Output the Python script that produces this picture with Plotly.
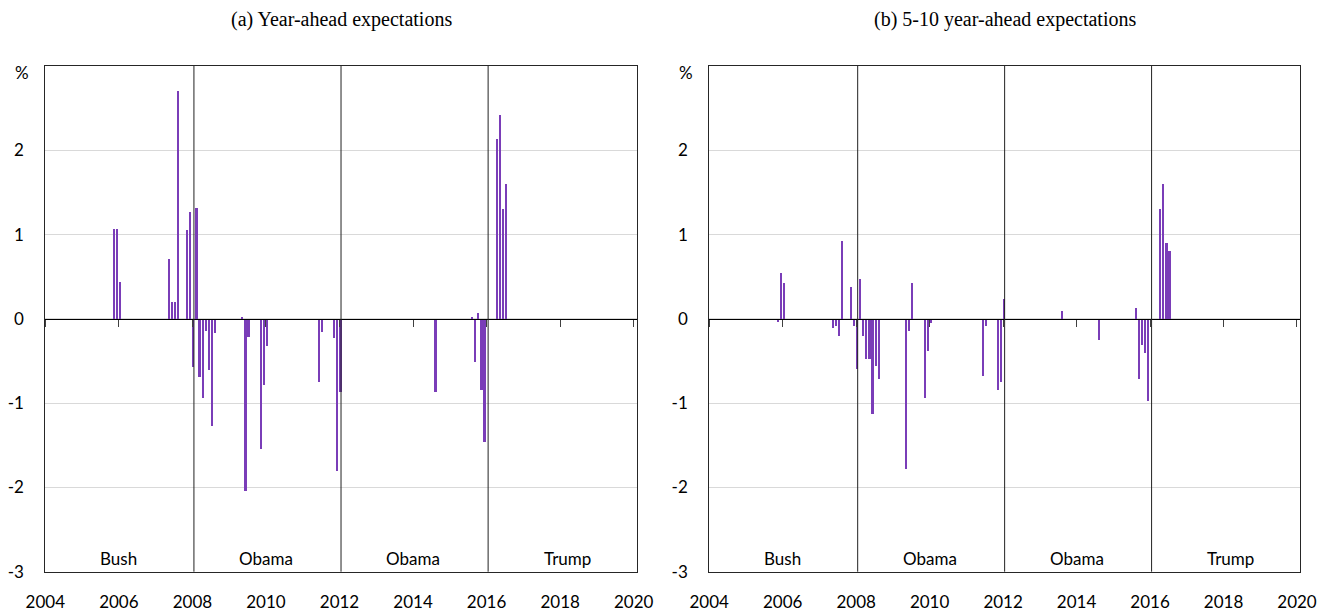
import plotly.graph_objects as go

# ---- data (monthly changes, %) ----
months_a = ["2005-11", "2005-12", "2006-01", "2007-05", "2007-06", "2007-07", "2007-08",
            "2007-11", "2007-12", "2008-01", "2008-02", "2008-03", "2008-04", "2008-05",
            "2008-06", "2008-07", "2008-08", "2009-05", "2009-06", "2009-07", "2009-11",
            "2009-12", "2010-01", "2011-06", "2011-07", "2011-11", "2011-12", "2012-01",
            "2014-08", "2015-08", "2015-09", "2015-10", "2015-11", "2015-12", "2016-04",
            "2016-05", "2016-06", "2016-07"]
values_a = [1.07, 1.07, 0.44, 0.71, 0.20, 0.20, 2.70,
            1.06, 1.27, -0.57, 1.31, -0.69, -0.94, -0.15,
            -0.61, -1.27, -0.17, 0.02, -2.04, -0.21, -1.55,
            -0.78, -0.32, -0.75, -0.16, -0.23, -1.80, -0.87,
            -0.87, 0.02, -0.51, 0.07, -0.85, -1.46, 2.13,
            2.42, 1.30, 1.60]

months_b = ["2005-11", "2005-12", "2006-01", "2007-05", "2007-06", "2007-07", "2007-08",
            "2007-11", "2007-12", "2008-01", "2008-02", "2008-03", "2008-04", "2008-05",
            "2008-06", "2008-07", "2008-08", "2009-05", "2009-06", "2009-07", "2009-11",
            "2009-12", "2010-01", "2011-06", "2011-07", "2011-11", "2011-12", "2012-01",
            "2013-08", "2014-08", "2015-08", "2015-09", "2015-10", "2015-11", "2015-12",
            "2016-04", "2016-05", "2016-06", "2016-07"]
values_b = [-0.04, 0.54, 0.43, -0.11, -0.08, -0.20, 0.92,
            0.38, -0.09, -0.60, 0.47, -0.20, -0.48, -0.48,
            -1.13, -0.56, -0.71, -1.78, -0.15, 0.42, -0.94,
            -0.38, -0.05, -0.68, -0.08, -0.84, -0.75, 0.24,
            0.095, -0.255, 0.13, -0.71, -0.31, -0.40, -0.98,
            1.30, 1.60, 0.90, 0.81]

titles = ["(a) Year-ahead expectations", "(b) 5-10 year-ahead expectations"]
transitions = ["2008-01", "2012-01", "2016-01"]
terms = ["Bush", "Obama", "Obama", "Trump"]
term_label_x = [2006.0, 2010.0, 2014.0, 2018.2]
year_ticks = list(range(2004, 2021, 2))
y_ticks = [-3, -2, -1, 0, 1, 2]


def to_year(m):
    y, mo = m.split("-")
    return int(y) + (int(mo) - 0.5) / 12.0


# the page body has an 8px margin: lay out in page pixels, shifted by it
OFF = 8
W, H = 1335 - OFF, 611 - OFF


def px_x(p):
    return (p - OFF) / W


def px_y(p):
    return 1 - (p - OFF) / H


TICK_FONT = dict(family="Lato, 'Open Sans', sans-serif", size=17, color="black")
BAR_COLOR = "#7a3db8"
XR = [2004, 2020.09]
YDOM = [px_y(571.7), px_y(66)]
XDOMS = [[px_x(45.3), px_x(637)], [px_x(709.2), px_x(1300.3)]]
zero_pos = (YDOM[0] + YDOM[1]) / 2

fig = go.Figure()
datasets = [(months_a, values_a), (months_b, values_b)]
for i, (ms, vs) in enumerate(datasets):
    n = i + 1
    xa = "x" if n == 1 else f"x{n}"
    ya = "y" if n == 1 else f"y{n}"
    fig.add_trace(go.Bar(x=[to_year(m) for m in ms], y=vs, width=0.045,
                         marker=dict(color=BAR_COLOR, line=dict(width=0)),
                         xaxis=xa, yaxis=ya, showlegend=False))

layout = dict(width=W, height=H, margin=dict(l=0, r=0, t=0, b=0, autoexpand=False),
              plot_bgcolor="white", paper_bgcolor="white", bargap=0,
              shapes=[], annotations=[])

for i in range(2):
    n = i + 1
    xk = "xaxis" if n == 1 else f"xaxis{n}"
    yk = "yaxis" if n == 1 else f"yaxis{n}"
    xname = "x" if n == 1 else f"x{n}"
    yname = "y" if n == 1 else f"y{n}"
    layout[xk] = dict(domain=XDOMS[i], range=XR, anchor=yname, automargin=False,
                      tickvals=year_ticks, ticktext=[str(t) for t in year_ticks],
                      ticks="", showgrid=False, zeroline=False,
                      showline=True, linecolor="#262626", linewidth=1, mirror=True,
                      tickfont=TICK_FONT, ticklabelstandoff=15)
    layout[yk] = dict(domain=YDOM, range=[-3, 3], anchor=xname, automargin=False,
                      tickvals=y_ticks, ticktext=[str(t) for t in y_ticks],
                      ticks="", showgrid=True, gridcolor="#d9d9d9", gridwidth=1,
                      zeroline=False, showline=True, linecolor="#262626",
                      linewidth=1, mirror=True, tickfont=TICK_FONT,
                      ticklabelstandoff=17)
    # zero-line axis carrying the small tick marks
    ok = f"xaxis{n + 2}"
    layout[ok] = dict(domain=XDOMS[i], range=XR, overlaying=xname, anchor="free",
                      position=zero_pos, matches=xname, automargin=False,
                      tickvals=year_ticks, ticks="outside", ticklen=7,
                      tickcolor="#404040", tickwidth=1, showticklabels=False,
                      showgrid=False, zeroline=False, showline=True,
                      linecolor="black", linewidth=1)
    # invisible trace to register the overlay axis
    fig.add_trace(go.Scatter(x=[XR[0]], y=[0], mode="markers",
                             marker=dict(opacity=0), hoverinfo="skip",
                             xaxis=f"x{n + 2}", yaxis=yname, showlegend=False))
    for t in transitions:
        layout["shapes"].append(dict(type="line", xref=xname, yref=f"{yname} domain",
                                     x0=to_year(t), x1=to_year(t), y0=0, y1=1,
                                     line=dict(color="#222222", width=1)))
    for lbl, lx in zip(terms, term_label_x):
        layout["annotations"].append(dict(text=lbl, x=lx, y=-2.845, xref=xname, yref=yname,
                                          showarrow=False, font=TICK_FONT,
                                          xanchor="center", yanchor="middle"))
    layout["annotations"].append(dict(text="%", x=0, y=1, xref=f"{xname} domain",
                                      yref=f"{yname} domain", xshift=-23, yshift=-6,
                                      showarrow=False, font=TICK_FONT,
                                      xanchor="center", yanchor="middle"))
    layout["annotations"].append(dict(text=titles[i], x=(XDOMS[i][0] + XDOMS[i][1]) / 2,
                                      y=px_y(19.5), xref="paper", yref="paper",
                                      showarrow=False, xanchor="center", yanchor="middle",
                                      font=dict(family="'Liberation Serif', 'Times New Roman', serif",
                                                size=20, color="black")))

fig.update_layout(**layout)
fig.write_html("out.html")
